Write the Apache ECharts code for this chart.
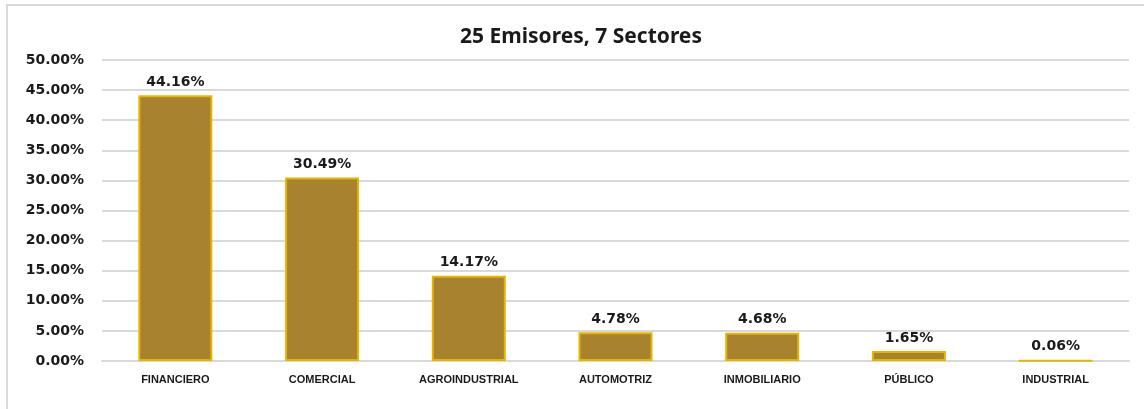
<!DOCTYPE html>
<html>
<head>
<meta charset="utf-8">
<script src="https://cdn.jsdelivr.net/npm/echarts@6/dist/echarts.min.js"></script>
<style>
html,body{margin:0;padding:0;background:#fff;}
#frame{position:absolute;left:6px;top:4px;width:1200px;height:500px;border:2px solid #D9D9D9;box-sizing:border-box;}
#chart{position:absolute;left:0;top:0;width:1144px;height:409px;}
</style>
</head>
<body>
<div id="frame"></div>
<div id="chart"></div>
<script>
const titleText = '25 Emisores, 7 Sectores';
const categories = ['FINANCIERO','COMERCIAL','AGROINDUSTRIAL','AUTOMOTRIZ','INMOBILIARIO','PÚBLICO','INDUSTRIAL'];
const values = [44.16, 30.49, 14.17, 4.78, 4.68, 1.65, 0.06];
const yMin = 0, yMax = 50, yStep = 5;

const chart = echarts.init(document.getElementById('chart'));
chart.setOption({
  backgroundColor: 'transparent',
  animation: false,
  title: {
    text: titleText,
    left: 576, top: 22, textAlign: 'center',
    textStyle: {fontFamily: 'Noto Sans', fontWeight: 'bold', fontSize: 21, color: '#1a1a1a'}
  },
  grid: {left: 102, right: 15, top: 60, bottom: 48},
  xAxis: {
    type: 'category',
    data: categories,
    axisLine: {show: true, lineStyle: {color: '#D9D9D9', width: 2}},
    axisTick: {show: false},
    axisLabel: {margin: 13, fontFamily: 'Liberation Sans', fontWeight: 'bold', fontSize: 11, color: '#1a1a1a'}
  },
  yAxis: {
    type: 'value',
    min: yMin, max: yMax, interval: yStep,
    axisLine: {show: false},
    axisTick: {show: false},
    splitLine: {lineStyle: {color: '#D9D9D9', width: 2}},
    axisLabel: {
      margin: 18,
      formatter: v => v.toFixed(2) + '%',
      fontFamily: 'DejaVu Sans', fontWeight: 'bold', fontSize: 14, color: '#1a1a1a'
    }
  },
  series: [{
    type: 'bar',
    data: values,
    barWidth: 74,
    itemStyle: {color: '#A9822F', borderColor: '#E6B500', borderWidth: 2},
    label: {
      show: true, position: 'top', distance: 6,
      formatter: p => p.value.toFixed(2) + '%',
      fontFamily: 'DejaVu Sans', fontWeight: 'bold', fontSize: 14, color: '#1a1a1a'
    }
  }]
});
</script>
</body>
</html>
